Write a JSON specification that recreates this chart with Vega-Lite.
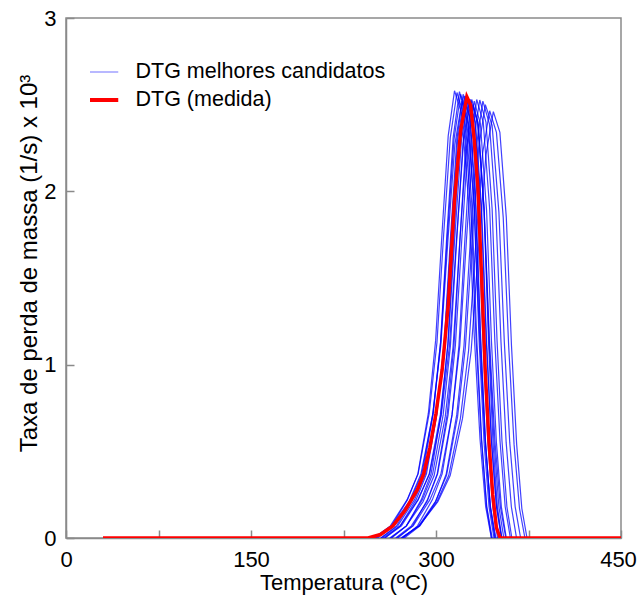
{
  "$schema": "https://vega.github.io/schema/vega-lite/v6.json",
  "width": 555,
  "height": 520,
  "autosize": {"type": "none"},
  "padding": {"left": 66, "top": 18, "right": 17, "bottom": 60},
  "config": {
    "font": "Liberation Sans",
    "view": {"stroke": "#8a8a8a", "strokeWidth": 1.5},
    "axis": {
      "grid": false,
      "domainColor": "#8a8a8a",
      "domainWidth": 1.5,
      "tickColor": "#8a8a8a",
      "tickWidth": 1.5,
      "tickSize": -8,
      "labelFontSize": 22,
      "labelColor": "#000000",
      "titleFontSize": 22,
      "titleFontWeight": "normal",
      "titleColor": "#000000"
    }
  },
  "datasets": {
    "blue": [
      {"c":1,"t":251.3,"v":0},{"c":1,"t":264,"v":0.07},{"c":1,"t":276.8,"v":0.22},{"c":1,"t":285.3,"v":0.37},{"c":1,"t":293.8,"v":0.72},{"c":1,"t":299.7,"v":1.14},{"c":1,"t":304.8,"v":1.75},{"c":1,"t":309.9,"v":2.32},{"c":1,"t":315,"v":2.58},{"c":1,"t":320.8,"v":2.45},{"c":1,"t":326.5,"v":1.94},{"c":1,"t":331.1,"v":1.16},{"c":1,"t":335.7,"v":0.57},{"c":1,"t":340.3,"v":0.18},{"c":1,"t":344.9,"v":0},
      {"c":2,"t":249.5,"v":0},{"c":2,"t":263,"v":0.07},{"c":2,"t":276.5,"v":0.22},{"c":2,"t":285.5,"v":0.37},{"c":2,"t":294.5,"v":0.72},{"c":2,"t":300.8,"v":1.13},{"c":2,"t":306.2,"v":1.75},{"c":2,"t":311.6,"v":2.31},{"c":2,"t":317,"v":2.57},{"c":2,"t":322.5,"v":2.44},{"c":2,"t":328,"v":1.93},{"c":2,"t":332.4,"v":1.16},{"c":2,"t":336.8,"v":0.57},{"c":2,"t":341.2,"v":0.18},{"c":2,"t":345.6,"v":0},
      {"c":3,"t":255.3,"v":0},{"c":3,"t":268,"v":0.07},{"c":3,"t":280.8,"v":0.22},{"c":3,"t":289.3,"v":0.37},{"c":3,"t":297.8,"v":0.72},{"c":3,"t":303.7,"v":1.13},{"c":3,"t":308.8,"v":1.75},{"c":3,"t":313.9,"v":2.31},{"c":3,"t":319,"v":2.575},{"c":3,"t":324,"v":2.44},{"c":3,"t":329,"v":1.93},{"c":3,"t":333,"v":1.16},{"c":3,"t":337,"v":0.57},{"c":3,"t":341,"v":0.18},{"c":3,"t":345,"v":0},
      {"c":4,"t":252.5,"v":0},{"c":4,"t":266,"v":0.07},{"c":4,"t":279.5,"v":0.22},{"c":4,"t":288.5,"v":0.37},{"c":4,"t":297.5,"v":0.72},{"c":4,"t":303.8,"v":1.13},{"c":4,"t":309.2,"v":1.74},{"c":4,"t":314.6,"v":2.3},{"c":4,"t":320,"v":2.56},{"c":4,"t":325.5,"v":2.43},{"c":4,"t":331,"v":1.92},{"c":4,"t":335.4,"v":1.15},{"c":4,"t":339.8,"v":0.56},{"c":4,"t":344.2,"v":0.18},{"c":4,"t":348.6,"v":0},
      {"c":5,"t":249.8,"v":0},{"c":5,"t":264,"v":0.07},{"c":5,"t":278.3,"v":0.21},{"c":5,"t":287.8,"v":0.37},{"c":5,"t":297.3,"v":0.71},{"c":5,"t":303.9,"v":1.11},{"c":5,"t":309.6,"v":1.71},{"c":5,"t":315.3,"v":2.27},{"c":5,"t":321,"v":2.52},{"c":5,"t":326,"v":2.39},{"c":5,"t":331,"v":1.89},{"c":5,"t":335,"v":1.13},{"c":5,"t":339,"v":0.55},{"c":5,"t":343,"v":0.18},{"c":5,"t":347,"v":0},
      {"c":6,"t":258.3,"v":0},{"c":6,"t":271,"v":0.07},{"c":6,"t":283.8,"v":0.22},{"c":6,"t":292.3,"v":0.37},{"c":6,"t":300.8,"v":0.72},{"c":6,"t":306.7,"v":1.13},{"c":6,"t":311.8,"v":1.74},{"c":6,"t":316.9,"v":2.3},{"c":6,"t":322,"v":2.56},{"c":6,"t":327,"v":2.43},{"c":6,"t":332,"v":1.92},{"c":6,"t":336,"v":1.15},{"c":6,"t":340,"v":0.56},{"c":6,"t":344,"v":0.18},{"c":6,"t":348,"v":0},
      {"c":7,"t":255.5,"v":0},{"c":7,"t":269,"v":0.07},{"c":7,"t":282.5,"v":0.22},{"c":7,"t":291.5,"v":0.37},{"c":7,"t":300.5,"v":0.71},{"c":7,"t":306.8,"v":1.12},{"c":7,"t":312.2,"v":1.73},{"c":7,"t":317.6,"v":2.3},{"c":7,"t":323,"v":2.55},{"c":7,"t":327.8,"v":2.42},{"c":7,"t":332.5,"v":1.91},{"c":7,"t":336.3,"v":1.15},{"c":7,"t":340.1,"v":0.56},{"c":7,"t":343.9,"v":0.18},{"c":7,"t":347.7,"v":0},
      {"c":8,"t":264,"v":0},{"c":8,"t":276,"v":0.07},{"c":8,"t":288,"v":0.22},{"c":8,"t":296,"v":0.37},{"c":8,"t":304,"v":0.71},{"c":8,"t":309.6,"v":1.12},{"c":8,"t":314.4,"v":1.73},{"c":8,"t":319.2,"v":2.3},{"c":8,"t":324,"v":2.55},{"c":8,"t":329,"v":2.42},{"c":8,"t":334,"v":1.91},{"c":8,"t":338,"v":1.15},{"c":8,"t":342,"v":0.56},{"c":8,"t":346,"v":0.18},{"c":8,"t":350,"v":0},
      {"c":9,"t":258.5,"v":0},{"c":9,"t":272,"v":0.07},{"c":9,"t":285.5,"v":0.22},{"c":9,"t":294.5,"v":0.37},{"c":9,"t":303.5,"v":0.71},{"c":9,"t":309.8,"v":1.12},{"c":9,"t":315.2,"v":1.73},{"c":9,"t":320.6,"v":2.29},{"c":9,"t":326,"v":2.54},{"c":9,"t":331.3,"v":2.41},{"c":9,"t":336.5,"v":1.91},{"c":9,"t":340.7,"v":1.14},{"c":9,"t":344.9,"v":0.56},{"c":9,"t":349.1,"v":0.18},{"c":9,"t":353.3,"v":0},
      {"c":10,"t":263.3,"v":0},{"c":10,"t":276,"v":0.07},{"c":10,"t":288.8,"v":0.22},{"c":10,"t":297.3,"v":0.37},{"c":10,"t":305.8,"v":0.71},{"c":10,"t":311.7,"v":1.11},{"c":10,"t":316.8,"v":1.72},{"c":10,"t":321.9,"v":2.28},{"c":10,"t":327,"v":2.53},{"c":10,"t":332,"v":2.4},{"c":10,"t":337,"v":1.9},{"c":10,"t":341,"v":1.14},{"c":10,"t":345,"v":0.56},{"c":10,"t":349,"v":0.18},{"c":10,"t":353,"v":0},
      {"c":11,"t":256.8,"v":0},{"c":11,"t":271,"v":0.07},{"c":11,"t":285.3,"v":0.22},{"c":11,"t":294.8,"v":0.37},{"c":11,"t":304.3,"v":0.71},{"c":11,"t":310.9,"v":1.11},{"c":11,"t":316.6,"v":1.72},{"c":11,"t":322.3,"v":2.28},{"c":11,"t":328,"v":2.53},{"c":11,"t":333.5,"v":2.4},{"c":11,"t":339,"v":1.9},{"c":11,"t":343.4,"v":1.14},{"c":11,"t":347.8,"v":0.56},{"c":11,"t":352.2,"v":0.18},{"c":11,"t":356.6,"v":0},
      {"c":12,"t":269,"v":0},{"c":12,"t":281,"v":0.07},{"c":12,"t":293,"v":0.22},{"c":12,"t":301,"v":0.37},{"c":12,"t":309,"v":0.71},{"c":12,"t":314.6,"v":1.11},{"c":12,"t":319.4,"v":1.72},{"c":12,"t":324.2,"v":2.28},{"c":12,"t":329,"v":2.53},{"c":12,"t":334,"v":2.4},{"c":12,"t":339,"v":1.9},{"c":12,"t":343,"v":1.14},{"c":12,"t":347,"v":0.56},{"c":12,"t":351,"v":0.18},{"c":12,"t":355,"v":0},
      {"c":13,"t":262.5,"v":0},{"c":13,"t":276,"v":0.07},{"c":13,"t":289.5,"v":0.21},{"c":13,"t":298.5,"v":0.36},{"c":13,"t":307.5,"v":0.7},{"c":13,"t":313.8,"v":1.1},{"c":13,"t":319.2,"v":1.7},{"c":13,"t":324.6,"v":2.25},{"c":13,"t":330,"v":2.5},{"c":13,"t":334.5,"v":2.38},{"c":13,"t":339,"v":1.88},{"c":13,"t":342.6,"v":1.13},{"c":13,"t":346.2,"v":0.55},{"c":13,"t":349.8,"v":0.18},{"c":13,"t":353.4,"v":0},
      {"c":14,"t":267.3,"v":0},{"c":14,"t":280,"v":0.07},{"c":14,"t":292.8,"v":0.21},{"c":14,"t":301.3,"v":0.37},{"c":14,"t":309.8,"v":0.71},{"c":14,"t":315.7,"v":1.11},{"c":14,"t":320.8,"v":1.71},{"c":14,"t":325.9,"v":2.27},{"c":14,"t":331,"v":2.52},{"c":14,"t":336,"v":2.39},{"c":14,"t":341,"v":1.89},{"c":14,"t":345,"v":1.13},{"c":14,"t":349,"v":0.55},{"c":14,"t":353,"v":0.18},{"c":14,"t":357,"v":0},
      {"c":15,"t":273,"v":0},{"c":15,"t":285,"v":0.07},{"c":15,"t":297,"v":0.22},{"c":15,"t":305,"v":0.37},{"c":15,"t":313,"v":0.71},{"c":15,"t":318.6,"v":1.11},{"c":15,"t":323.4,"v":1.72},{"c":15,"t":328.2,"v":2.28},{"c":15,"t":333,"v":2.53},{"c":15,"t":338.3,"v":2.4},{"c":15,"t":343.5,"v":1.9},{"c":15,"t":347.7,"v":1.14},{"c":15,"t":351.9,"v":0.56},{"c":15,"t":356.1,"v":0.18},{"c":15,"t":360.3,"v":0},
      {"c":16,"t":268,"v":0},{"c":16,"t":281.5,"v":0.07},{"c":16,"t":295,"v":0.22},{"c":16,"t":304,"v":0.37},{"c":16,"t":313,"v":0.71},{"c":16,"t":319.3,"v":1.11},{"c":16,"t":324.7,"v":1.72},{"c":16,"t":330.1,"v":2.28},{"c":16,"t":335.5,"v":2.527},{"c":16,"t":340.5,"v":2.4},{"c":16,"t":345.5,"v":1.9},{"c":16,"t":349.5,"v":1.14},{"c":16,"t":353.5,"v":0.56},{"c":16,"t":357.5,"v":0.18},{"c":16,"t":361.5,"v":0},
      {"c":17,"t":274.3,"v":0},{"c":17,"t":287,"v":0.07},{"c":17,"t":299.8,"v":0.21},{"c":17,"t":308.3,"v":0.37},{"c":17,"t":316.8,"v":0.71},{"c":17,"t":322.7,"v":1.11},{"c":17,"t":327.8,"v":1.71},{"c":17,"t":332.9,"v":2.27},{"c":17,"t":338,"v":2.52},{"c":17,"t":343.3,"v":2.39},{"c":17,"t":348.5,"v":1.89},{"c":17,"t":352.7,"v":1.13},{"c":17,"t":356.9,"v":0.55},{"c":17,"t":361.1,"v":0.18},{"c":17,"t":365.3,"v":0},
      {"c":18,"t":272.5,"v":0},{"c":18,"t":286,"v":0.07},{"c":18,"t":299.5,"v":0.21},{"c":18,"t":308.5,"v":0.36},{"c":18,"t":317.5,"v":0.7},{"c":18,"t":323.8,"v":1.1},{"c":18,"t":329.2,"v":1.7},{"c":18,"t":334.6,"v":2.25},{"c":18,"t":340,"v":2.5},{"c":18,"t":345.5,"v":2.38},{"c":18,"t":351,"v":1.88},{"c":18,"t":355.4,"v":1.13},{"c":18,"t":359.8,"v":0.55},{"c":18,"t":364.2,"v":0.18},{"c":18,"t":368.6,"v":0},
      {"c":19,"t":272.3,"v":0},{"c":19,"t":286.5,"v":0.07},{"c":19,"t":300.8,"v":0.21},{"c":19,"t":310.3,"v":0.36},{"c":19,"t":319.8,"v":0.69},{"c":19,"t":326.4,"v":1.08},{"c":19,"t":332.1,"v":1.68},{"c":19,"t":337.8,"v":2.22},{"c":19,"t":343.5,"v":2.465},{"c":19,"t":349,"v":2.34},{"c":19,"t":354.5,"v":1.85},{"c":19,"t":358.9,"v":1.11},{"c":19,"t":363.3,"v":0.54},{"c":19,"t":367.7,"v":0.17},{"c":19,"t":372.1,"v":0},
      {"c":20,"t":271.5,"v":0},{"c":20,"t":286.5,"v":0.07},{"c":20,"t":301.5,"v":0.21},{"c":20,"t":311.5,"v":0.36},{"c":20,"t":321.5,"v":0.69},{"c":20,"t":328.5,"v":1.08},{"c":20,"t":334.5,"v":1.67},{"c":20,"t":340.5,"v":2.21},{"c":20,"t":346.5,"v":2.46},{"c":20,"t":351.8,"v":2.34},{"c":20,"t":357,"v":1.85},{"c":20,"t":361.2,"v":1.11},{"c":20,"t":365.4,"v":0.54},{"c":20,"t":369.6,"v":0.17},{"c":20,"t":373.8,"v":0}
    ],
    "red": [
      {"t":30,"v":0},{"t":245,"v":0},{"t":255,"v":0.02},{"t":265,"v":0.07},{"t":275,"v":0.16},{"t":285,"v":0.28},{"t":290,"v":0.37},{"t":295,"v":0.52},{"t":300,"v":0.72},{"t":305,"v":0.97},{"t":310,"v":1.35},{"t":315,"v":1.95},{"t":320,"v":2.35},{"t":325,"v":2.546},{"t":328,"v":2.5},{"t":331,"v":2.3},{"t":334,"v":2.02},{"t":337,"v":1.5},{"t":340,"v":0.95},{"t":343,"v":0.55},{"t":346,"v":0.25},{"t":349,"v":0.06},{"t":352,"v":0},{"t":450,"v":0}
    ]
  },
  "layer": [
    {
      "data": {"name": "blue"},
      "mark": {"type": "line", "strokeWidth": 1.2, "opacity": 0.75, "clip": true},
      "encoding": {
        "x": {
          "field": "t", "type": "quantitative",
          "scale": {"domain": [0, 450], "nice": false, "zero": false},
          "axis": {
            "title": "Temperatura (ºC)",
            "values": [0, 75, 150, 225, 300, 375, 450],
            "labelExpr": "datum.value % 150 === 0 ? datum.label : ''",
            "format": "d",
            "labelPadding": 19,
            "labelFlush": false,
            "labelOffset": {"expr": "datum.value === 450 ? -3 : 0"},
            "titlePadding": 2
          }
        },
        "y": {
          "field": "v", "type": "quantitative",
          "scale": {"domain": [0, 3], "nice": false},
          "axis": {
            "title": "Taxa de perda de massa (1/s) x 10³",
            "values": [0, 1, 2, 3],
            "format": "d",
            "labelPadding": 18,
            "labelFlush": false,
            "titlePadding": 2,
            "titleFontSize": 24,
            "titleY": 245
          }
        },
        "detail": {"field": "c"},
        "color": {
          "datum": "DTG melhores candidatos",
          "scale": {"domain": ["DTG melhores candidatos", "DTG (medida)"], "range": ["#0000ff", "#ff0000"]},
          "legend": {
            "title": null,
            "orient": "none",
            "legendX": 24,
            "legendY": 43,
            "symbolType": "stroke",
            "symbolSize": 1225,
            "symbolStrokeWidth": {"expr": "datum.label === 'DTG (medida)' ? 4 : 1.2"},
            "symbolOpacity": {"expr": "datum.label === 'DTG (medida)' ? 1 : 0.55"},
            "clipHeight": 22,
            "rowPadding": 6,
            "labelFontSize": 21.5,
            "labelColor": "#000000",
            "labelOffset": 24,
            "labelLimit": 0
          }
        }
      }
    },
    {
      "data": {"name": "red"},
      "mark": {"type": "line", "strokeWidth": 3.5, "clip": true},
      "encoding": {
        "x": {"field": "t", "type": "quantitative"},
        "y": {"field": "v", "type": "quantitative"},
        "color": {"datum": "DTG (medida)"}
      }
    }
  ]
}
